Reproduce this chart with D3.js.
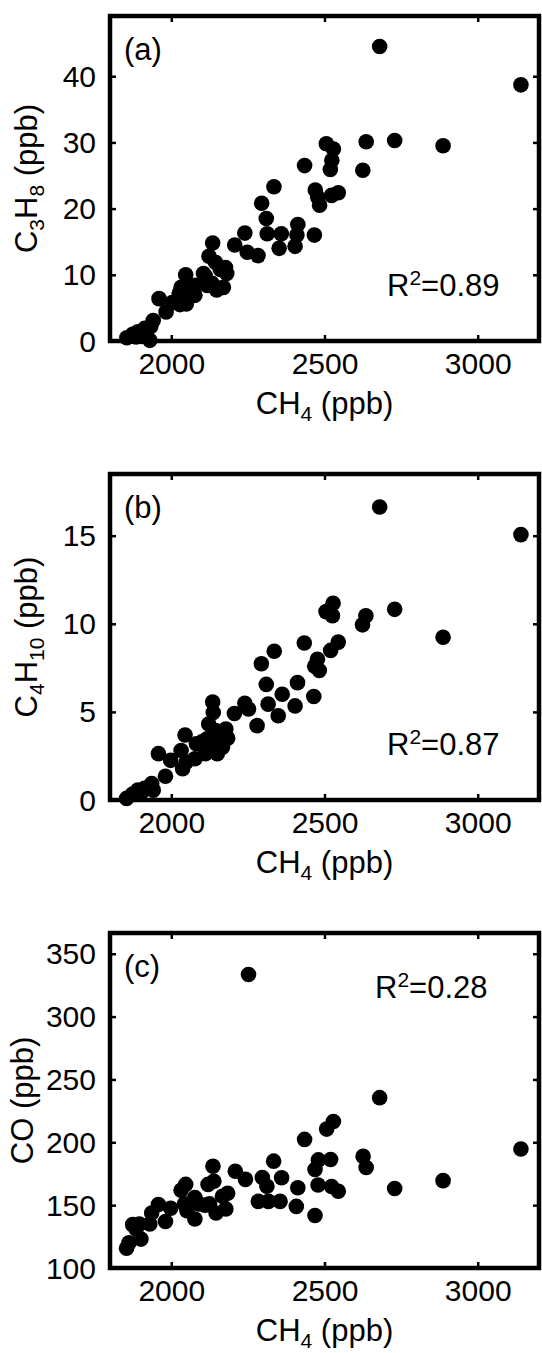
<!DOCTYPE html>
<html><head><meta charset="utf-8">
<script src="https://cdn.jsdelivr.net/npm/d3@7"></script>
<style>
body{margin:0;background:#fff}
svg{display:block}
text{font-family:"Liberation Sans",Arial,Helvetica,sans-serif;fill:#000}
</style>
</head><body>
<svg id="c" width="542" height="1353"></svg>
<script>
// ---- data ----
const xTicks = [2000, 2500, 3000];
const xDomain = [1800, 3200];

const ch4A = [2680,3141,2887,2729,2636,2625,2506,2529,2524,2519,2435,2470,2478,2484,2523,2545,2467,
  2335,2295,2310,2313,2359,2352,2413,2410,2404,2240,2207,2248,2283,2135,2123,2144,2177,2181,2111,
  2133,2148,2170,2117,2080,2049,2047,2032,2026,2049,2028,2077,2003,1960,1983,1941,1933,1913,1891,
  1874,1855,1902,1930,1885,2105,2160,2065];
const c3h8 = [44.5,38.7,29.5,30.3,30.1,25.8,29.8,29.0,27.3,25.9,26.5,22.8,21.7,20.5,22.0,22.4,16.0,
  23.3,20.8,18.5,16.2,16.2,14.0,17.6,16.0,14.3,16.3,14.5,13.4,12.9,14.8,12.8,11.9,11.1,10.2,9.8,
  8.7,7.7,8.1,8.4,8.4,8.1,10.0,8.1,7.2,5.6,5.5,6.9,5.8,6.4,4.4,3.1,2.2,1.9,1.4,
  1.0,0.5,0.7,0.1,0.6,10.2,10.8,7.5];
const yTicksA = [0, 10, 20, 30, 40];

const ch4B = [2680,3141,2887,2729,2635,2624,2505,2528,2526,2434,2545,2520,2477,2468,2483,2465,
  2336,2294,2310,2316,2362,2349,2412,2404,2240,2206,2252,2280,2135,2137,2122,2144,2178,2184,2167,
  2117,2139,2150,2111,2082,2045,2077,2032,2049,2037,1998,1958,1981,1936,1941,1913,1891,1874,1854,
  1902,2100,2160];
const c4h10 = [16.63,15.06,9.24,10.82,10.46,9.94,10.69,11.16,10.46,8.91,8.96,8.49,7.99,7.59,7.35,5.87,
  8.44,7.73,6.56,5.44,6.0,4.78,6.66,5.34,5.49,4.91,5.16,4.22,5.56,4.97,4.31,3.94,4.03,3.51,3.0,
  3.47,3.0,2.63,2.63,3.19,3.69,2.34,2.81,2.16,1.78,2.25,2.63,1.35,0.94,0.56,0.66,0.56,0.34,0.09,
  0.41,3.3,3.6];
const yTicksB = [0, 5, 10, 15];

const ch4C = [2252,2680,3141,2887,2729,2626,2636,2507,2529,2435,2520,2480,2469,2479,2523,2545,2469,
  2334,2297,2312,2360,2284,2317,2355,2413,2408,2209,2242,2136,2139,2120,2184,2178,2146,2125,2110,
  2077,2047,2032,2043,2051,2077,1998,1981,1958,1936,1930,1896,1874,1885,1901,1862,1854,2167,2090];
const co = [333.5,235.5,194.7,169.5,163.2,188.8,180.0,210.5,216.6,202.3,186.3,186.0,178.3,166.0,164.8,161.0,141.8,
  185.0,172.0,165.0,171.8,153.0,153.0,153.0,163.8,149.0,177.0,170.5,181.0,169.0,166.5,159.5,147.0,143.8,151.0,150.0,
  156.0,166.5,161.8,151.0,145.6,139.0,147.5,137.0,150.5,143.7,135.0,135.0,134.5,131.0,123.0,120.0,115.7,157.0,151.0];
const yTicksC = [100, 150, 200, 250, 300, 350];

// ---- layout ----
const L = 110, R = 539;
const panels = [
  {xs: ch4A, ys: c3h8, yDomain: [0, 49.1], yTicks: yTicksA, top: 16, bottom: 341, tag: "(a)", r2: "0.89",
   r2x: 387, r2y: 296, ylab: [["C",0],["3",1],["H",0],["8",1],[" (ppb)",0]], ylx: 37},
  {xs: ch4B, ys: c4h10, yDomain: [0, 18.5], yTicks: yTicksB, top: 474, bottom: 800, tag: "(b)", r2: "0.87",
   r2x: 387, r2y: 755, ylab: [["C",0],["4",1],["H",0],["10",1],[" (ppb)",0]], ylx: 37},
  {xs: ch4C, ys: co, yDomain: [100, 366.5], yTicks: yTicksC, top: 933, bottom: 1268, tag: "(c)", r2: "0.28",
   r2x: 375, r2y: 998, ylab: [["CO (ppb)",0]], ylx: 33}
];

const svg = d3.select("#c");
const FS = 30, LFS = 31, SUB = 21, SHIFT = 7;

function addRich(t, parts) {
  parts.forEach(([s, sub], i) => {
    const ts = t.append("tspan").text(s);
    if (sub) ts.attr("font-size", SUB).attr("dy", SHIFT);
    else if (i > 0 && parts[i-1][1]) ts.attr("dy", -SHIFT);
  });
}

panels.forEach(p => {
  const x = d3.scaleLinear().domain(xDomain).range([L, R]);
  const y = d3.scaleLinear().domain(p.yDomain).range([p.bottom, p.top]);
  const g = svg.append("g");

  // points
  g.append("g").selectAll("circle").data(p.xs.map((v, i) => [v, p.ys[i]]))
    .join("circle").attr("cx", d => x(d[0])).attr("cy", d => y(d[1])).attr("r", 7.8).attr("fill", "#000");

  // axes (ticks inward, all four sides)
  const tl = 6;
  const bx = g.append("g").attr("transform", `translate(0,${p.bottom})`)
    .call(d3.axisBottom(x).tickValues(xTicks).tickSize(-tl).tickFormat(d3.format("d")));
  const tx = g.append("g").attr("transform", `translate(0,${p.top})`)
    .call(d3.axisTop(x).tickValues(xTicks).tickSize(-tl).tickFormat(""));
  const ly = g.append("g").attr("transform", `translate(${L},0)`)
    .call(d3.axisLeft(y).tickValues(p.yTicks).tickSize(-tl).tickFormat(d3.format("d")));
  const ry = g.append("g").attr("transform", `translate(${R},0)`)
    .call(d3.axisRight(y).tickValues(p.yTicks).tickSize(-tl).tickFormat(""));
  [bx, tx, ly, ry].forEach(a => {
    a.select(".domain").remove();
    a.selectAll(".tick line").attr("stroke", "#000").attr("stroke-width", 2.5);
    a.selectAll(".tick text").attr("font-size", FS).attr("font-family", "Liberation Sans, Arial, sans-serif").attr("fill", "#000");
  });
  bx.selectAll(".tick text").attr("dy", null).attr("y", 33);
  ly.selectAll(".tick text").attr("dy", null).attr("y", 10).attr("x", -14);

  // frame
  g.append("rect").attr("x", L).attr("y", p.top).attr("width", R - L).attr("height", p.bottom - p.top)
    .attr("fill", "none").attr("stroke", "#000").attr("stroke-width", 4.5);

  // panel tag
  g.append("text").attr("x", 124).attr("y", p.top + 44).attr("font-size", LFS).text(p.tag);

  // R^2
  const r2 = g.append("text").attr("x", p.r2x).attr("y", p.r2y).attr("font-size", LFS);
  r2.append("tspan").text("R");
  r2.append("tspan").text("2").attr("font-size", SUB).attr("dy", -11);
  r2.append("tspan").text("=" + p.r2).attr("dy", 11);

  // x label
  const xl = g.append("text").attr("x", (L + R) / 2).attr("y", p.bottom + 73)
    .attr("text-anchor", "middle").attr("font-size", LFS);
  addRich(xl, [["CH",0],["4",1],[" (ppb)",0]]);

  // y label
  const yl = g.append("text").attr("transform", `translate(${p.ylx},${(p.top + p.bottom) / 2}) rotate(-90)`)
    .attr("text-anchor", "middle").attr("font-size", LFS);
  addRich(yl, p.ylab);
});
</script>
</body></html>
